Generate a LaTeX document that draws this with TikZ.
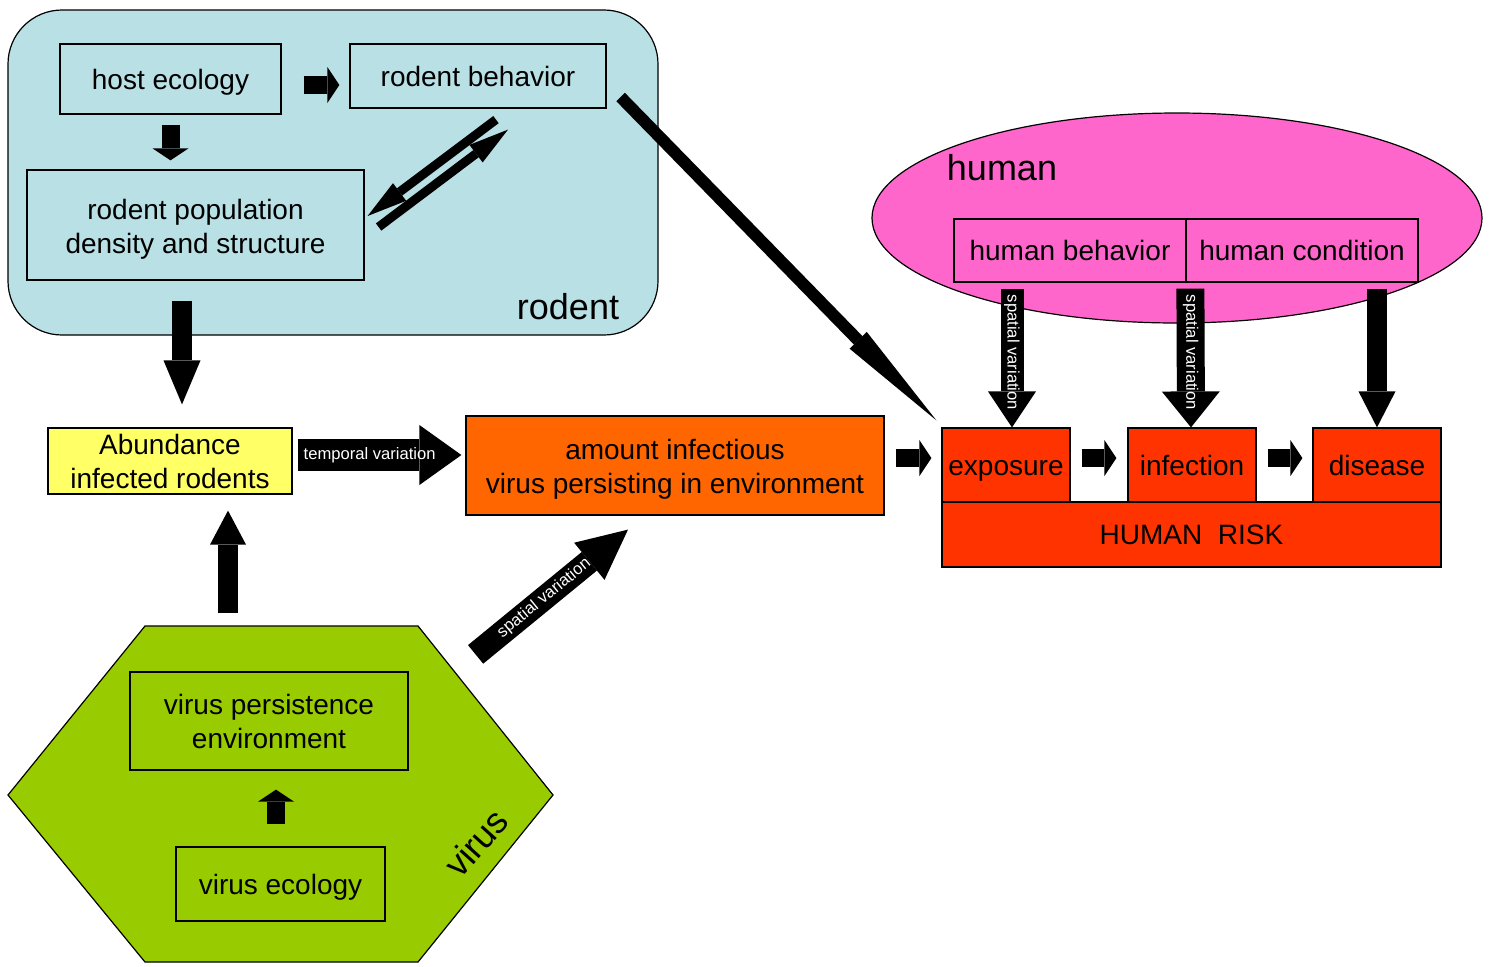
\documentclass[tikz,border=0pt]{standalone}
\usepackage{fontspec}
\setmainfont{Liberation Sans}
\usetikzlibrary{arrows.meta}
\definecolor{rodentblue}{RGB}{185,224,228}
\definecolor{humanpink}{RGB}{255,102,204}
\definecolor{abundyellow}{RGB}{255,255,102}
\definecolor{envorange}{RGB}{255,102,0}
\definecolor{riskred}{RGB}{255,51,0}
\definecolor{virusgreen}{RGB}{153,204,0}
\newcommand{\topgap}[1]{\rule{0pt}{#1}}

\begin{document}
\begin{tikzpicture}[x=0.5pt, y=-0.5pt,
    box/.style={draw, line width=0.6pt, inner sep=0pt, align=center, font=\fontsize{14}{17}\selectfont},
    oneline/.style={text height=11pt, text depth=0.6pt},
    grouplabel/.style={font=\fontsize{18}{20}\selectfont},
    blockarr/.style n args={3}{line width=#1, -{Triangle[width=#2, length=#3, line width=0pt]}},
    arrtext/.style={text=white, font=\fontsize{8.3}{10}\selectfont, inner sep=0pt}]
    \useasboundingbox (0,0) rectangle (1495,966);
    % the three groups
    \draw[fill=rodentblue, line width=0.6pt, rounded corners=27pt] (8,10) rectangle (658,335);
    \draw[fill=humanpink, line width=0.6pt] (1177,218) ellipse [x radius=305, y radius=105];
    \draw[fill=virusgreen, line width=0.6pt] (8,795) -- (145,626) -- (418,626) -- (553,795) -- (418,962) -- (145,962) -- cycle;
    \node[grouplabel] (rodentlbl) at (568,307) {rodent};
    \node[grouplabel] (humanlbl) at (1002,168) {human};
    \node[grouplabel, rotate=48] (viruslbl) at (476,843) {virus};

    \node[box, oneline, minimum width=110.5pt, minimum height=35pt] (hosteco) at (170.5,79) {host ecology};
    \node[box, oneline, minimum width=128pt, minimum height=32pt] (rodbeh) at (478,76) {rodent behavior};
    \node[box, minimum width=168.5pt, minimum height=55pt] (rodpop) at (195.5,225) {\topgap{14.4pt}rodent population\\density and structure};
    \node[box, fill=abundyellow, minimum width=122pt, minimum height=33pt] (abund) at (170,461) {Abundance\\infected rodents};
    \node[box, fill=envorange, minimum width=209pt, minimum height=49.5pt] (amount) at (675,465.5) {\topgap{13.4pt}amount infectious\\virus persisting in environment};
    \node[box, oneline, minimum width=116pt, minimum height=31.5pt] (humbeh) at (1070,250.5) {human behavior};
    \node[box, oneline, minimum width=116pt, minimum height=31.5pt] (humcond) at (1302,250.5) {human condition};
    \node[box, oneline, fill=riskred, minimum width=249.5pt, minimum height=32.5pt] (risk) at (1191.5,534.5) {HUMAN\ \ RISK};
    \node[box, oneline, fill=riskred, minimum width=64pt, minimum height=37pt] (expo) at (1006,465) {exposure};
    \node[box, oneline, fill=riskred, minimum width=64pt, minimum height=37pt] (infec) at (1192,465) {infection};
    \node[box, oneline, fill=riskred, minimum width=64pt, minimum height=37pt] (disease) at (1377,465) {disease};
    \node[box, minimum width=139pt, minimum height=49pt] (virpers) at (269,721) {virus persistence\\environment};
    \node[box, oneline, minimum width=104.5pt, minimum height=37pt] (vireco) at (280.5,884) {virus ecology};

    % arrows
    \draw[blockarr={9pt}{18pt}{6pt}] ([shift={(22,6)}]hosteco.east) -- ([shift={(-10,9)}]rodbeh.west);
    \draw[blockarr={9pt}{18pt}{6pt}] ([shift={(0,10)}]hosteco.south) -- ([shift={(-25,-9)}]rodpop.north);
    \draw[blockarr={4.5pt}{11pt}{20pt}] ([shift={(18,11)}]rodbeh.south) -- ([shift={(3,-9)}]rodpop.east);
    \draw[blockarr={4.5pt}{11pt}{20pt}] ([shift={(14,2)}]rodpop.east) -- ([shift={(30,21)}]rodbeh.south);
    \draw[blockarr={6pt}{12pt}{56pt}] ([shift={(14,21)}]rodbeh.east) -- ([shift={(-5,-7)}]expo.north west);
    \draw[blockarr={10pt}{18.5pt}{22pt}] ([shift={(-13.5,20)}]rodpop.south) -- ([shift={(12,-23)}]abund.north);
    \draw[blockarr={10pt}{18pt}{17pt}] ([shift={(-41,-58)}]virpers.north) -- ([shift={(58,16)}]abund.south);
    \draw[blockarr={9pt}{18pt}{6pt}] ([shift={(-4.5,-22)}]vireco.north) -- ([shift={(7,19)}]virpers.south);
    \draw[blockarr={16pt}{30pt}{21pt}] ([shift={(5,-6)}]abund.east) -- node[arrtext, pos=0.44] {temporal variation} ([shift={(-4,-10.5)}]amount.west);
    \draw[blockarr={12pt}{24pt}{25pt}] ([shift={(67,-17)}]virpers.north east) -- node[arrtext, sloped, pos=0.45] {spatial variation} ([shift={(-47,14)}]amount.south);
    \draw[blockarr={9pt}{18pt}{6pt}] ([shift={(11,-7.5)}]amount.east) -- ([shift={(-10,-7)}]expo.west);
    \draw[blockarr={9pt}{18pt}{6pt}] ([shift={(11,-7)}]expo.east) -- ([shift={(-11,-7)}]infec.west);
    \draw[blockarr={9pt}{18pt}{6pt}] ([shift={(11,-7)}]infec.east) -- ([shift={(-10,-7)}]disease.west);
    \draw[blockarr={11.5pt}{24pt}{18pt}] ([shift={(-58,6)}]humbeh.south) -- node[arrtext, rotate=-90, pos=0.46] {spatial variation} ([shift={(6,0)}]expo.north);
    \draw[blockarr={14pt}{29pt}{18pt}] ([shift={(5,6)}]humcond.south west) -- node[arrtext, rotate=-90, pos=0.46] {spatial variation} ([shift={(-1,0)}]infec.north);
    \draw[blockarr={10pt}{18.5pt}{18pt}] ([shift={(75,6)}]humcond.south) -- (disease.north);
\end{tikzpicture}
\end{document}
